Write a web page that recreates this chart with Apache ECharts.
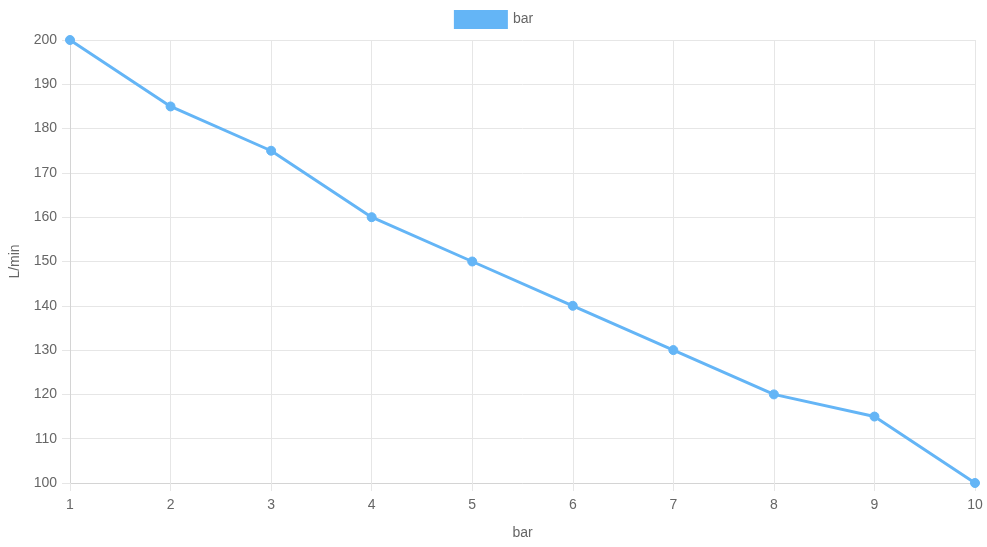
<!DOCTYPE html>
<html><head><meta charset="utf-8">
<script src="https://cdn.jsdelivr.net/npm/echarts@6/dist/echarts.min.js"></script>
<style>html,body{margin:0;padding:0;background:#fff;}#c{width:987px;height:547px;}</style>
</head><body><div id="c"></div>
<script>
const categories = ['1','2','3','4','5','6','7','8','9','10'];
const seriesName = 'bar';
const values = [200, 185, 175, 160, 150, 140, 130, 120, 115, 100];
const xTitle = 'bar';
const yTitle = 'L/min';

const font = 'Liberation Sans, Arial, Helvetica, sans-serif';
const color = '#64b5f6';
const chart = echarts.init(document.getElementById('c'), null, {renderer: 'canvas'});
chart.setOption({
  animation: false,
  textStyle: {fontFamily: font},
  legend: {
    top: 5, left: 'center',
    icon: 'rect', itemWidth: 54, itemHeight: 19,
    textStyle: {color: '#666', fontSize: 14, fontFamily: font},
    data: [{name: seriesName, itemStyle: {color: color}}]
  },
  grid: {left: 70, right: 12, top: 40, bottom: 64, containLabel: false, outerBoundsMode: 'none'},
  xAxis: {
    type: 'category', data: categories, boundaryGap: false,
    name: xTitle, nameLocation: 'middle', nameGap: 43,
    nameTextStyle: {color: '#666', fontSize: 14, fontFamily: font},
    axisLine: {show: true, lineStyle: {color: '#d4d4d4', width: 1}},
    axisTick: {show: true, length: 8, lineStyle: {color: '#e6e6e6'}},
    axisLabel: {color: '#666', fontSize: 14, margin: 15, fontFamily: font},
    splitLine: {show: true, lineStyle: {color: '#e6e6e6', width: 1}}
  },
  yAxis: {
    type: 'value', min: 100, max: 200, interval: 10,
    name: yTitle, nameLocation: 'middle', nameGap: 48, nameRotate: 90,
    nameTextStyle: {color: '#666', fontSize: 14, fontFamily: font},
    axisLine: {show: true, lineStyle: {color: '#d4d4d4', width: 1}},
    axisTick: {show: true, length: 8, lineStyle: {color: '#e6e6e6'}},
    axisLabel: {color: '#666', fontSize: 14, margin: 13, fontFamily: font},
    splitLine: {show: true, lineStyle: {color: '#e6e6e6', width: 1}}
  },
  series: [{
    name: seriesName, type: 'line', data: values,
    symbol: 'circle', symbolSize: 9, showAllSymbol: true,
    lineStyle: {color: color, width: 3},
    itemStyle: {color: color, borderColor: color},
    clip: false
  }]
});
</script></body></html>
